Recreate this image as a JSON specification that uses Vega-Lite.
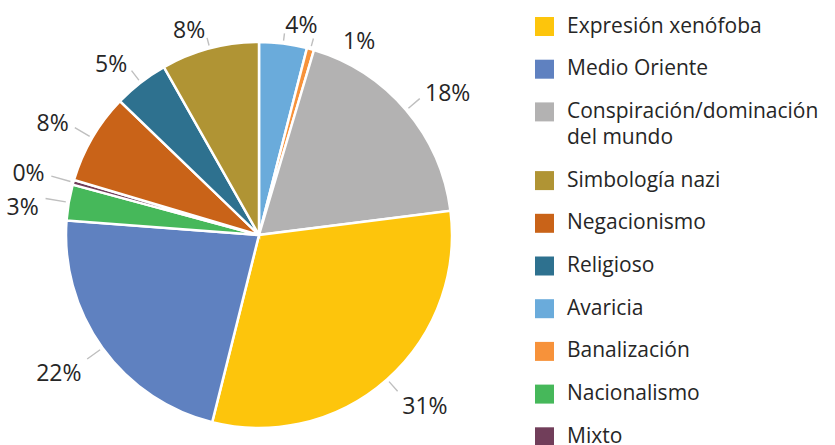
{
  "$schema": "https://vega.github.io/schema/vega-lite/v6.json",
  "width": 518,
  "height": 470,
  "autosize": {"type": "pad"},
  "padding": 0,
  "background": "white",
  "config": {"view": {"stroke": null}, "font": "Open Sans", "style": {"guide-label": {"lineHeight": 26}}},
  "data": {
    "values": [
      {"categoria": "Avaricia", "orden": 1, "valor": 4.0, "etiqueta": "4%"},
      {"categoria": "Banalización", "orden": 2, "valor": 0.6, "etiqueta": "1%"},
      {"categoria": "Conspiración/dominación del mundo", "orden": 3, "valor": 18.4, "etiqueta": "18%"},
      {"categoria": "Expresión xenófoba", "orden": 4, "valor": 30.9, "etiqueta": "31%"},
      {"categoria": "Medio Oriente", "orden": 5, "valor": 22.3, "etiqueta": "22%"},
      {"categoria": "Nacionalismo", "orden": 6, "valor": 3.0, "etiqueta": "3%"},
      {"categoria": "Mixto", "orden": 7, "valor": 0.4, "etiqueta": "0%"},
      {"categoria": "Negacionismo", "orden": 8, "valor": 7.6, "etiqueta": "8%"},
      {"categoria": "Religioso", "orden": 9, "valor": 4.6, "etiqueta": "5%"},
      {"categoria": "Simbología nazi", "orden": 10, "valor": 8.2, "etiqueta": "8%"}
    ]
  },
  "encoding": {
    "theta": {"field": "valor", "type": "quantitative", "stack": true},
    "order": {"field": "orden", "type": "quantitative"}
  },
  "layer": [
    {
      "mark": {"type": "arc", "outerRadius": 193, "stroke": "white", "strokeWidth": 2.5},
      "encoding": {
        "color": {
          "field": "categoria",
          "type": "nominal",
          "scale": {
            "domain": ["Expresión xenófoba", "Medio Oriente", "Conspiración/dominación del mundo", "Simbología nazi", "Negacionismo", "Religioso", "Avaricia", "Banalización", "Nacionalismo", "Mixto"],
            "range": ["#FDC50C", "#5F81C0", "#B3B2B2", "#B09434", "#C96318", "#2E718F", "#6AABDB", "#F7923A", "#46B85A", "#713E5A"]
          },
          "legend": {
            "title": null,
            "orient": "none",
            "legendX": 534,
            "legendY": 16,
            "symbolType": "square",
            "symbolSize": 361,
            "symbolStrokeWidth": 0,
            "labelFontSize": 21,
            "labelFont": "Open Sans",
            "labelColor": "#262626",
            "labelOffset": 12,
            "labelLimit": 400,
            "rowPadding": 20.7,
            "labelExpr": "datum.label == 'Conspiración/dominación del mundo' ? ['Conspiración/dominación', 'del mundo'] : datum.label"
          }
        }
      }
    },
    {
      "mark": {
        "type": "arc",
        "innerRadius": 196,
        "outerRadius": {"expr": "max(203, 1 / sqrt(pow(sin(PI * (datum.valor_start + datum.valor_end) / 100) / 224, 2) + pow(cos(PI * (datum.valor_start + datum.valor_end) / 100) / 210, 2)) - 7)"},
        "padAngle": 2.5,
        "filled": false,
        "color": "#BFBFBF",
        "strokeWidth": 1.4
      }
    },
    {
      "mark": {
        "type": "text",
        "radius": {"expr": "1 / sqrt(pow(sin(PI * (datum.valor_start + datum.valor_end) / 100) / 224, 2) + pow(cos(PI * (datum.valor_start + datum.valor_end) / 100) / 210, 2))"},
        "thetaOffset": {"expr": "datum.valor < 1 && datum.valor_start < 50 ? 0.14 : 0"},
        "align": {"expr": "(datum.valor_start + datum.valor_end) / 2 < 50 ? 'left' : 'right'"},
        "baseline": {"expr": "(datum.valor_start + datum.valor_end) / 2 > 30 && (datum.valor_start + datum.valor_end) / 2 < 79 ? 'top' : 'middle'"},
        "fontSize": 23,
        "font": "Open Sans",
        "color": "#262626"
      },
      "encoding": {"text": {"field": "etiqueta"}}
    }
  ]
}
